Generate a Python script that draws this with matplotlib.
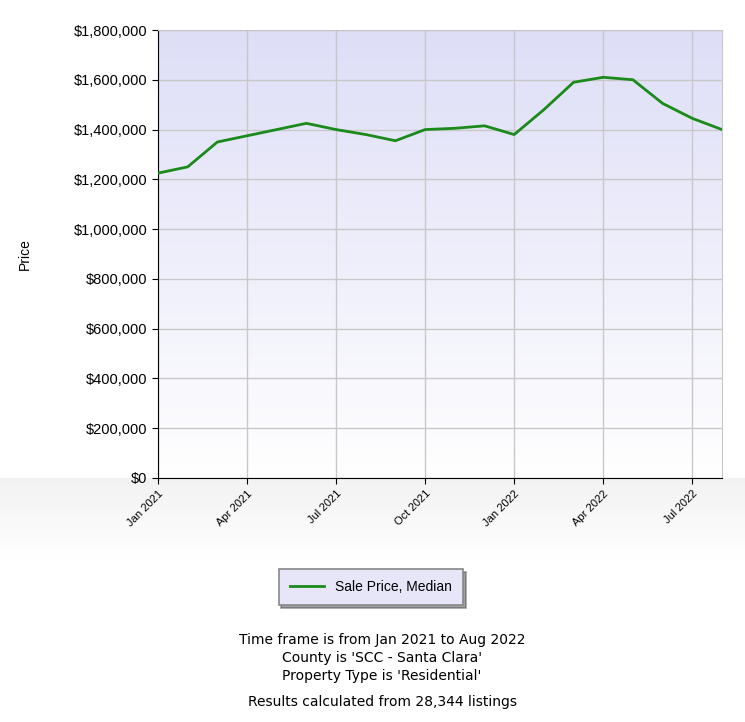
import matplotlib
matplotlib.use("Agg")
import matplotlib.pyplot as plt
import matplotlib.ticker as mt
import numpy as np

months = ["Jan 2021","Feb 2021","Mar 2021","Apr 2021","May 2021","Jun 2021","Jul 2021","Aug 2021",
          "Sep 2021","Oct 2021","Nov 2021","Dec 2021","Jan 2022","Feb 2022","Mar 2022","Apr 2022",
          "May 2022","Jun 2022","Jul 2022","Aug 2022"]
prices = [1225000,1250000,1350000,1375000,1400000,1425000,1400000,1380000,1355000,1400000,
          1405000,1415000,1380000,1480000,1590000,1610000,1600000,1505000,1445000,1400000]
tick_labels = ["Jan 2021","Apr 2021","Jul 2021","Oct 2021","Jan 2022","Apr 2022","Jul 2022"]

W, H = 745, 722
fig = plt.figure(figsize=(W/100, H/100), dpi=100)
bg = fig.add_axes([0, 0, 1, 1], zorder=-10)
g = np.ones((H, 1, 3))
for i in range(H):
    if 478 <= i <= 560:
        t = (i-478)/82
        v = 0.95 + 0.05*t
        g[i, 0] = [v, v, v]
bg.imshow(g, aspect="auto", extent=[0, 1, 0, 1], origin="upper")
bg.axis("off")

ax = fig.add_axes([158/W, 1-478/H, (722-158)/W, (478-30)/H])
x = np.arange(len(months))
ax.set_xlim(0, len(months)-1)
ax.set_ylim(0, 1800000)
grad = np.linspace(0, 1, 256).reshape(-1, 1)
top = np.array([0.87, 0.87, 0.97]); bot = np.array([1, 1, 1])
img = top*(1-grad[..., None]) + bot*grad[..., None]
ax.imshow(img.reshape(256, 1, 3), aspect="auto", extent=[0, len(months)-1, 0, 1800000], origin="upper", zorder=0)
ax.plot(x, prices, color="#1a8a1a", lw=2, zorder=3, label="Sale Price, Median")
ax.set_xticks([months.index(t) for t in tick_labels])
ax.set_xticklabels(tick_labels, rotation=45, ha="right", rotation_mode="anchor", fontsize=8, fontfamily="Liberation Sans")
ax.set_yticks(np.arange(0, 1800001, 200000))
ax.yaxis.set_major_formatter(mt.FuncFormatter(lambda v, p: f"${v:,.0f}"))
for lab in ax.get_yticklabels():
    lab.set_fontsize(10.5); lab.set_fontfamily("Liberation Sans")
ax.grid(True, color="#c8c8c8", lw=1, zorder=1)
for s in ["top", "right"]:
    ax.spines[s].set_color("#c8c8c8")
for s in ["left", "bottom"]:
    ax.spines[s].set_color("black")
ax.tick_params(length=4)
ax.set_ylabel("Price", fontsize=10, fontfamily="Liberation Sans")
ax.yaxis.set_label_coords((32-158)/(722-158), 0.5)

leg = fig.legend(loc="center", bbox_to_anchor=(371/W, 1-587/H),
                 prop={"family": "Liberation Sans", "size": 10}, fancybox=False, edgecolor="#888888",
                 facecolor="#e6e6f8", framealpha=1, borderpad=0.8, handlelength=2.5, shadow=True)
leg.get_frame().set_linewidth(1.2)

for y, t in [(640, "Time frame is from Jan 2021 to Aug 2022"), (658, "County is 'SCC - Santa Clara'"),
             (676, "Property Type is 'Residential'"), (702, "Results calculated from 28,344 listings")]:
    fig.text(382/W, 1-y/H, t, ha="center", va="center", fontsize=10, fontfamily="DejaVu Sans")
fig.savefig("out.png", dpi=100)
